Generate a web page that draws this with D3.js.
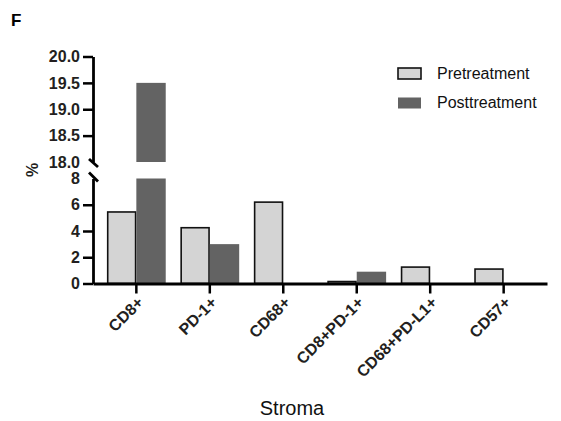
<!DOCTYPE html>
<html lang="en">
<head>
<meta charset="UTF-8">
<title>Stroma</title>
<script src="https://d3js.org/d3.v7.min.js"></script>
<style>
  body { margin: 0; background: #fff; }
  svg { font-family: Arial, "Liberation Sans", sans-serif; }
</style>
</head>
<body>
<svg id="chart" width="561" height="421"></svg>
<script>
// data
const categories = ["CD8+", "PD-1+", "CD68+", "CD8+PD-1+", "CD68+PD-L1+", "CD57+"];
const pretreatment = [5.45, 4.25, 6.2, 0.15, 1.25, 1.1];
const posttreatment = [19.5, 3.0, 0, 0.9, 0, 0];
const seriesNames = ["Pretreatment", "Posttreatment"];
const lowTicks = [0, 2, 4, 6, 8];
const highTicks = [18.0, 18.5, 19.0, 19.5, 20.0];

const colors = { Pretreatment: "#d4d4d4", Posttreatment: "#636363" };

const svg = d3.select("#chart");

// broken y axis: two linear segments
const yLow = d3.scaleLinear().domain([0, 8]).range([283.5, 178.5]);
const yHigh = d3.scaleLinear().domain([18, 20]).range([162, 56.5]);
const axisX = 93;

const x = d3.scaleBand()
    .domain(categories)
    .range([93, 547])
    .paddingInner(0.2)
    .paddingOuter(0.19);

const xSub = d3.scaleBand()
    .domain(seriesNames)
    .range([0, x.bandwidth()]);

const rows = categories.map((c, i) => ({
    cat: c,
    values: [
        { key: "Pretreatment", v: pretreatment[i] },
        { key: "Posttreatment", v: posttreatment[i] }
    ]
}));

// bars
const groups = svg.selectAll(".grp")
  .data(rows)
  .join("g")
    .attr("class", "grp")
    .attr("transform", d => `translate(${x(d.cat)},0)`);

groups.each(function(d) {
    const g = d3.select(this);
    d.values.forEach(s => {
        if (s.v <= 0) return;
        const isPre = s.key === "Pretreatment";
        const bx = xSub(s.key) + (isPre ? 0.75 : 0);
        const bw = xSub.bandwidth() - (isPre ? 1.5 : 0);
        const segs = [];
        if (s.v > 8) {
            segs.push([yLow(8), yLow(0)]);
            segs.push([yHigh(s.v), yHigh(18)]);
        } else {
            segs.push([yLow(s.v), yLow(0)]);
        }
        segs.forEach(([top, bot]) => {
            g.append("rect")
              .attr("x", bx)
              .attr("y", top)
              .attr("width", bw)
              .attr("height", Math.max(bot - top, 0.5))
              .attr("fill", colors[s.key])
              .attr("stroke", isPre ? "#111" : "none")
              .attr("stroke-width", 1.6);
        });
    });
});

// y axes
function styleAxis(sel) {
    sel.selectAll("path.domain").attr("stroke", "#000").attr("stroke-width", 2.8);
    sel.selectAll(".tick line").attr("stroke", "#000").attr("stroke-width", 2.5);
    sel.selectAll(".tick text")
      .attr("fill", "#231f20")
      .attr("font-size", 16)
      .attr("font-weight", "bold");
}

const gLow = svg.append("g")
    .attr("transform", `translate(${axisX},0)`)
    .call(d3.axisLeft(yLow).tickValues(lowTicks).tickSize(10).tickSizeOuter(0).tickPadding(3).tickFormat(d3.format("d")));
styleAxis(gLow);

const gHigh = svg.append("g")
    .attr("transform", `translate(${axisX},0)`)
    .call(d3.axisLeft(yHigh).tickValues(highTicks).tickSize(10).tickSizeOuter(0).tickPadding(3).tickFormat(d3.format(".1f")));
styleAxis(gHigh);
gHigh.select(".tick:first-of-type line").remove();
gLow.select(".tick:last-of-type line").remove();

// break marks
svg.append("line")
    .attr("x1", axisX - 4).attr("y1", yHigh(18) - 3)
    .attr("x2", axisX + 5).attr("y2", yHigh(18) + 5)
    .attr("stroke", "#000").attr("stroke-width", 2.8);
svg.append("line")
    .attr("x1", axisX - 4).attr("y1", yLow(8) - 6)
    .attr("x2", axisX + 5).attr("y2", yLow(8) + 3)
    .attr("stroke", "#000").attr("stroke-width", 2.8);

// x axis
const gx = svg.append("g")
    .attr("transform", `translate(0,${yLow(0)})`)
    .call(d3.axisBottom(x).tickSize(10).tickSizeOuter(0));
gx.selectAll("path.domain").attr("stroke", "#000").attr("stroke-width", 2.8);
gx.selectAll(".tick line").attr("stroke", "#000").attr("stroke-width", 2.5);
gx.selectAll(".tick text")
    .attr("fill", "#231f20")
    .attr("font-size", 16)
    .attr("font-weight", "bold")
    .attr("text-anchor", "end")
    .attr("dy", null)
    .attr("x", 8)
    .attr("y", 20)
    .attr("transform", "rotate(-45, 8, 20)");

// y label
svg.append("text")
    .attr("transform", "translate(38,170) rotate(-90)")
    .attr("text-anchor", "middle")
    .attr("font-size", 16)
    .attr("font-weight", "bold")
    .attr("fill", "#231f20")
    .text("%");

// x title
svg.append("text")
    .attr("x", 292)
    .attr("y", 415)
    .attr("text-anchor", "middle")
    .attr("font-size", 20)
    .attr("fill", "#111")
    .text("Stroma");

// panel letter
svg.append("text")
    .attr("x", 11)
    .attr("y", 26)
    .attr("font-size", 17)
    .attr("font-weight", "bold")
    .attr("fill", "#000")
    .text("F");

// legend
const legend = svg.selectAll(".legend")
  .data(seriesNames)
  .join("g")
    .attr("class", "legend")
    .attr("transform", (d, i) => `translate(398,${68 + i * 29.5})`);
legend.append("rect")
    .attr("width", 23)
    .attr("height", 11)
    .attr("fill", d => colors[d])
    .attr("stroke", d => d === "Pretreatment" ? "#111" : "none")
    .attr("stroke-width", 1.6);
legend.append("text")
    .attr("x", 39)
    .attr("y", 10.5)
    .attr("font-size", 16)
    .attr("fill", "#111")
    .text(d => d);
</script>
</body>
</html>
